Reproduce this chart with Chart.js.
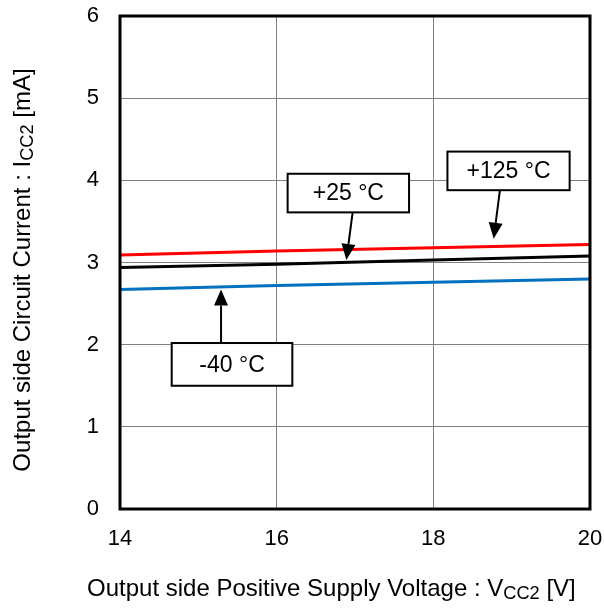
<!DOCTYPE html>
<html>
<head>
<meta charset="utf-8">
<script src="https://cdn.jsdelivr.net/npm/chart.js@4/dist/chart.umd.min.js"></script>
<style>
html,body{margin:0;padding:0;background:#fff;}
#wrap{width:604px;height:608px;}
</style>
</head>
<body>
<div id="wrap"><canvas id="c" width="604" height="608"></canvas></div>
<script>
// ---- data ----
const voltage = [14, 16, 18, 20];
const current125 = [3.09, 3.14, 3.18, 3.22];
const current25 = [2.94, 2.98, 3.03, 3.08];
const currentM40 = [2.67, 2.72, 2.76, 2.80];
const xTickValues = [14, 16, 18, 20];
const yTickValues = [0, 1, 2, 3, 4, 5, 6];
const seriesNames = ['+125 °C', '+25 °C', '-40 °C'];
// annotation labels (data coordinates: box corners, arrow start/tip)
const labelTexts = ['+25 °C', '+125 °C', '-40 °C'];
const labelBoxes = [
  [16.14, 4.08, 17.69, 3.61],
  [18.18, 4.35, 19.74, 3.88],
  [14.66, 2.02, 16.20, 1.50]
];
const labelArrows = [
  [16.97, 3.61, 16.89, 3.03],
  [18.85, 3.88, 18.77, 3.29],
  [15.29, 2.02, 15.29, 2.67]
];

const FONT = '"Liberation Sans", Arial, sans-serif';
const TITLE_SIZE = 24;
const SUB_RATIO = 0.76;

function pts(ys){ return voltage.map((v,i)=>({x:v,y:ys[i]})); }

function drawSubText(ctx, parts, x, y, size){
  let cx = x;
  for (const [t, sub] of parts){
    ctx.font = (sub ? size*SUB_RATIO : size) + 'px ' + FONT;
    ctx.fillText(t, cx, sub ? y + size*0.13 : y);
    cx += ctx.measureText(t).width;
  }
  return cx - x;
}
function measureParts(ctx, parts, size){
  let w = 0;
  for (const [t, sub] of parts){
    ctx.font = (sub ? size*SUB_RATIO : size) + 'px ' + FONT;
    w += ctx.measureText(t).width;
  }
  return w;
}

const decor = {
  id: 'decor',
  afterDatasetsDraw(chart){
    const ctx = chart.ctx, a = chart.chartArea;
    const xs = chart.scales.x, ys = chart.scales.y;
    ctx.save();
    // frame
    ctx.strokeStyle = '#000';
    ctx.lineWidth = 3;
    ctx.strokeRect(a.left, a.top, a.right - a.left, a.bottom - a.top);
    // annotations
    for (let i = 0; i < labelTexts.length; i++){
      const b = labelBoxes[i];
      const x1 = xs.getPixelForValue(b[0]), y1 = ys.getPixelForValue(b[1]);
      const x2 = xs.getPixelForValue(b[2]), y2 = ys.getPixelForValue(b[3]);
      const ar = labelArrows[i];
      const sx = xs.getPixelForValue(ar[0]), sy = ys.getPixelForValue(ar[1]);
      const tx = xs.getPixelForValue(ar[2]), ty = ys.getPixelForValue(ar[3]);
      const ang = Math.atan2(ty - sy, tx - sx);
      const headLen = 16, headW = 7;
      const bx = tx - headLen*Math.cos(ang), by = ty - headLen*Math.sin(ang);
      ctx.strokeStyle = '#000';
      ctx.lineWidth = 2;
      ctx.beginPath(); ctx.moveTo(sx, sy); ctx.lineTo(bx, by); ctx.stroke();
      ctx.fillStyle = '#000';
      ctx.beginPath();
      ctx.moveTo(tx, ty);
      ctx.lineTo(bx + headW*Math.sin(ang), by - headW*Math.cos(ang));
      ctx.lineTo(bx - headW*Math.sin(ang), by + headW*Math.cos(ang));
      ctx.closePath(); ctx.fill();
      ctx.fillStyle = '#fff';
      ctx.fillRect(x1, y1, x2 - x1, y2 - y1);
      ctx.strokeRect(x1, y1, x2 - x1, y2 - y1);
      ctx.fillStyle = '#000';
      ctx.font = '23px ' + FONT;
      ctx.textAlign = 'center';
      ctx.textBaseline = 'middle';
      ctx.fillText(labelTexts[i], (x1 + x2)/2, (y1 + y2)/2 + 1);
    }
    ctx.restore();
  },
  afterDraw(chart){
    const ctx = chart.ctx;
    ctx.save();
    ctx.fillStyle = '#000';
    ctx.textAlign = 'left';
    ctx.textBaseline = 'alphabetic';
    const xParts = [['Output side Positive Supply Voltage : V', false], ['CC2', true], [' [V]', false]];
    drawSubText(ctx, xParts, 87, 596, TITLE_SIZE);
    const yParts = [['Output side Circuit Current : I', false], ['CC2', true], [' [mA]', false]];
    const yw = measureParts(ctx, yParts, TITLE_SIZE);
    ctx.translate(30, 270);
    ctx.rotate(-Math.PI/2);
    drawSubText(ctx, yParts, -yw/2, 0, TITLE_SIZE);
    ctx.restore();
  }
};

new Chart(document.getElementById('c'), {
  type: 'line',
  data: {
    datasets: [
      { label: seriesNames[0], data: pts(current125), borderColor: '#ff0000', borderWidth: 3, pointRadius: 0, tension: 0 },
      { label: seriesNames[1], data: pts(current25), borderColor: '#000000', borderWidth: 3, pointRadius: 0, tension: 0 },
      { label: seriesNames[2], data: pts(currentM40), borderColor: '#0070c0', borderWidth: 3, pointRadius: 0, tension: 0 }
    ]
  },
  options: {
    responsive: false,
    animation: false,
    devicePixelRatio: 1,
    layout: { padding: { left: 0, right: 14, top: 16, bottom: 0 } },
    plugins: { legend: { display: false }, tooltip: { enabled: false } },
    scales: {
      x: {
        type: 'linear', min: 14, max: 20,
        afterBuildTicks: s => { s.ticks = xTickValues.map(v => ({ value: v })); },
        afterFit: s => { s.height = 99; s.paddingLeft = 0; s.paddingRight = 0; },
        grid: { color: '#808080', lineWidth: 1, drawTicks: false },
        border: { display: false },
        ticks: { padding: 17, color: '#000', font: { family: FONT, size: 22 }, maxRotation: 0 }
      },
      y: {
        type: 'linear', min: 0, max: 6,
        afterBuildTicks: s => { s.ticks = yTickValues.map(v => ({ value: v })); },
        afterFit: s => { s.width = 120; s.paddingTop = 0; s.paddingBottom = 0; },
        grid: { color: '#808080', lineWidth: 1, drawTicks: false },
        border: { display: false },
        ticks: { padding: 21, color: '#000', font: { family: FONT, size: 22 } }
      }
    }
  },
  plugins: [decor]
});
</script>
</body>
</html>
